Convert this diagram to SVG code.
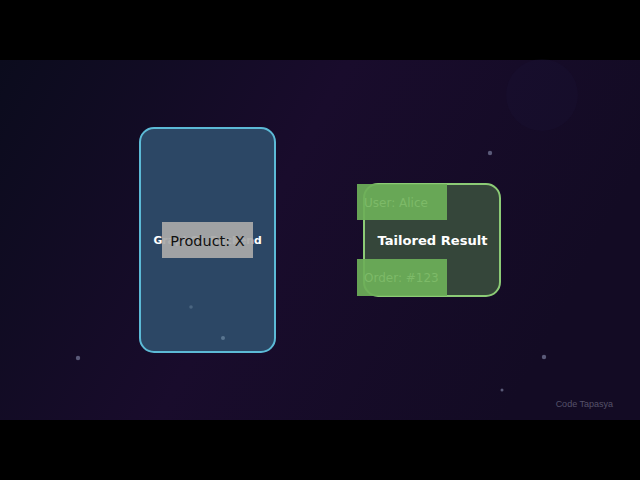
<svg xmlns="http://www.w3.org/2000/svg" width="640" height="480" viewBox="0 0 640 480">
<defs>
<linearGradient id="bg" x1="0" y1="0" x2="1" y2="0.3">
<stop offset="0" stop-color="#0b0c1d"/>
<stop offset="0.5" stop-color="#190c2c"/>
<stop offset="1" stop-color="#130b24"/>
</linearGradient>
<style>
.lbl{font-family:"DejaVu Sans",sans-serif;font-weight:bold;fill:#ffffff;text-anchor:middle}
.tag{font-family:"DejaVu Sans",sans-serif;font-size:12px;fill:#7dba68}
.dot{fill:#5a5a78}
.gr{fill:#6dae58;fill-opacity:0.93}
</style>
</defs>
<rect x="0" y="0" width="640" height="480" fill="#000"/>
<rect x="0" y="60" width="640" height="360" fill="url(#bg)"/>
<circle cx="542" cy="95" r="36" fill="#1c1238" opacity="0.25"/>
<g id="dots">
<circle class="dot" cx="490" cy="153" r="2.2"/>
<circle class="dot" cx="78" cy="358" r="2.2"/>
<circle class="dot" cx="544" cy="357" r="2.2"/>
<circle class="dot" cx="502" cy="390" r="1.5"/>
</g>
<g id="backend">
<rect x="140" y="128" width="135" height="224" rx="14" fill="#2c4765" stroke="#5cbad6" stroke-width="2"/>
<circle cx="191" cy="307" r="1.8" fill="#4a6580"/>
<circle cx="223" cy="338" r="2" fill="#5a7590"/>
<text class="lbl" x="207.5" y="244" style="font-size:10.8px">GraphQL Backend</text>
</g>
<g id="product">
<rect x="162" y="222" width="91" height="36" fill="#a9a9a9" fill-opacity="0.93"/>
<text x="207.5" y="246" font-family="DejaVu Sans, sans-serif" font-size="14.5" fill="#111" text-anchor="middle">Product: X</text>
</g>
<g id="result">
<rect x="364" y="184" width="136" height="112" rx="14" fill="#35463a" stroke="#8ccb76" stroke-width="2"/>
<text class="lbl" x="432.5" y="245" style="font-size:13.1px">Tailored Result</text>
</g>
<g id="user">
<rect class="gr" x="357" y="184" width="90" height="36"/>
<text class="tag" x="364" y="207">User: Alice</text>
</g>
<g id="order">
<rect class="gr" x="357" y="259" width="90" height="37"/>
<text class="tag" x="364" y="282">Order: #123</text>
</g>
<g id="connectors"></g>
<text x="613" y="407" font-family="Liberation Sans, sans-serif" font-size="9" fill="#55526a" text-anchor="end">Code Tapasya</text>
</svg>
